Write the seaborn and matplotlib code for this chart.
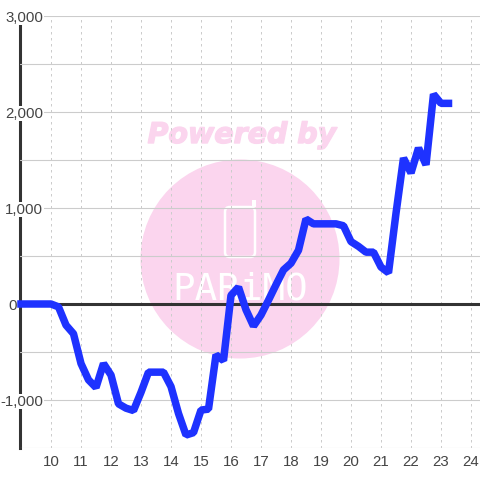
import matplotlib
matplotlib.use("Agg")
import matplotlib.pyplot as plt
import matplotlib.patheffects as pe
import seaborn as sns
import pandas as pd
from matplotlib.patches import Circle, FancyBboxPatch, Rectangle

hours = [9 + i * 0.25 for i in range(58)]
values = [0, 0, 0, 0, 0, -30, -220, -310, -620, -790, -870, -620,
          -740, -1040, -1085, -1110, -920, -710, -710, -710, -860, -1140, -1365, -1340,
          -1105, -1095, -530, -590, 90, 175, -60, -230, -115, 40, 200, 355,
          425, 560, 885, 835, 835, 835, 835, 815, 650, 600, 540, 540,
          385, 325, 945, 1520, 1365, 1625, 1450, 2185, 2090, 2090]
hour_ticks = list(range(10, 25))
y_grid = [-1500, -1000, -500, 0, 500, 1000, 1500, 2000, 2500, 3000]
y_labels = ["", "-1,000", "", "0", "", "1,000", "", "2,000", "", "3,000"]

df = pd.DataFrame({"hour": hours, "value": values})

sns.set_theme(style="white")
plt.rcParams["font.family"] = ["Liberation Sans", "DejaVu Sans"]

grid_col = "#cccccc"
dark = "#333333"
pink = "#fbd5ee"

fig = plt.figure(figsize=(4.8, 4.8), dpi=100, facecolor="white")
ax = fig.add_axes([20 / 480, 1 - 448 / 480, 460 / 480, 432 / 480])
ax.patch.set_visible(False)

# watermark sits behind the axes, placed in pixels of the figure
def px(x, y):
    return x / 480, 1 - y / 480

fig.add_artist(Circle(px(240, 259), 99.5 / 480, transform=fig.transFigure, fc=pink, ec="none", zorder=-2))
fig.text(*px(242, 135), "Powered by", color=pink, fontsize=20.5, fontweight="bold", fontstyle="italic",
         family="DejaVu Sans", ha="center", va="center", zorder=-1,
         path_effects=[pe.withStroke(linewidth=1.0, foreground=pink)])
fig.add_artist(FancyBboxPatch(px(225, 257), 30 / 480, 50 / 480, boxstyle="round,pad=0,rounding_size=0.01",
                              transform=fig.transFigure, fc="none", ec="white", lw=1.8, zorder=-1))
fig.add_artist(Rectangle(px(252.5, 207), 3.5 / 480, 7 / 480, transform=fig.transFigure, fc="white", ec="none", zorder=-1))
fig.text(*px(240, 290), "PARiMO", color="white", fontsize=27, family="DejaVu Sans Mono",
         ha="center", va="center", zorder=-1)

sns.lineplot(data=df, x="hour", y="value", ax=ax, color="#1e32ff", linewidth=5.4, zorder=3,
             solid_capstyle="projecting", solid_joinstyle="bevel", clip_on=False, errorbar=None)
ax.axhline(0, color=dark, lw=2.2, zorder=1)

ax.set_xlim(8.967, 24.3)
ax.set_ylim(-1500, 3000)
ax.set_xlabel("")
ax.set_ylabel("")
ax.set_axisbelow(True)

ax.set_xticks(hour_ticks)
ax.set_yticks(y_grid)
ax.set_yticklabels(y_labels)
ax.grid(axis="y", color=grid_col, lw=0.8)
ax.grid(axis="x", color=grid_col, lw=0.72, linestyle=(0, (2.5, 3.5)))
ax.tick_params(axis="x", length=0, labelsize=10.8, labelcolor="#444444", pad=5)
ax.tick_params(axis="y", length=0, labelsize=10.8, labelcolor="#444444", pad=-16.6)

for tick, lab in zip(ax.yaxis.get_major_ticks(), y_labels):
    tick.label1.set_bbox(dict(fc="white", ec="none", pad=0.3))
    if lab == "":
        tick.label1.set_visible(False)
    if lab == "0":
        tick.set_pad(2.5)
        tick.label1.set_bbox(None)

for s in ["top", "right", "bottom"]:
    ax.spines[s].set_visible(False)
ax.spines["left"].set_color(dark)
ax.spines["left"].set_linewidth(2.2)
ax.spines["left"].set_zorder(0.4)

fig.savefig("out.png", dpi=100)
